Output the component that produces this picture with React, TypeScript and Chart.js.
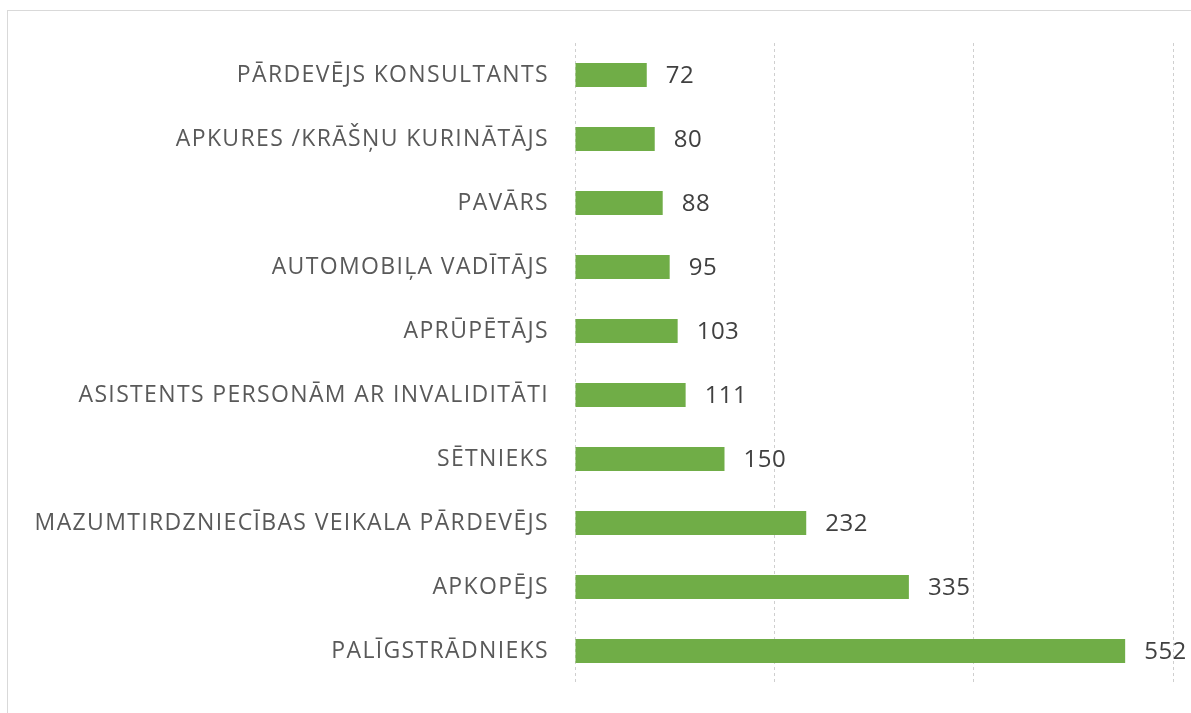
import React, { useEffect, useRef } from "react";
import { Chart, registerables } from "chart.js";

Chart.register(...registerables);

const categories = [
  "PĀRDEVĒJS KONSULTANTS",
  "APKURES /KRĀŠŅU KURINĀTĀJS",
  "PAVĀRS",
  "AUTOMOBIĻA VADĪTĀJS",
  "APRŪPĒTĀJS",
  "ASISTENTS PERSONĀM AR INVALIDITĀTI",
  "SĒTNIEKS",
  "MAZUMTIRDZNIECĪBAS VEIKALA PĀRDEVĒJS",
  "APKOPĒJS",
  "PALĪGSTRĀDNIEKS",
];
const values = [72, 80, 88, 95, 103, 111, 150, 232, 335, 552];
const axisMax = 600;
const axisStep = 200;

const FONT = "'Open Sans', 'Noto Sans', sans-serif";

const spacingPlugin = {
  id: "spacing",
  beforeDraw(chart: any) {
    chart.ctx.letterSpacing = "1.35px";
  },
  beforeDatasetsDraw(chart: any) {
    chart.ctx.letterSpacing = "0px";
  },
};

const valueLabels = {
  id: "valueLabels",
  afterDatasetsDraw(chart: any) {
    const ctx = chart.ctx;
    const meta = chart.getDatasetMeta(0);
    ctx.save();
    ctx.letterSpacing = "0.5px";
    ctx.font = `24px ${FONT}`;
    ctx.fillStyle = "#404040";
    ctx.textAlign = "left";
    ctx.textBaseline = "middle";
    meta.data.forEach((bar: any, i: number) => {
      ctx.fillText(String(values[i]), bar.x + 19, bar.y + 1);
    });
    ctx.restore();
  },
};

export default function App() {
  const ref = useRef<HTMLCanvasElement>(null);
  useEffect(() => {
    if (!ref.current) return;
    const chart = new Chart(ref.current, {
      type: "bar",
      data: {
        labels: categories,
        datasets: [
          {
            data: values,
            backgroundColor: "#70AD47",
            borderWidth: 0,
            categoryPercentage: 1,
            barPercentage: 0.375,
          },
        ],
      },
      options: {
        indexAxis: "y",
        animation: false,
        responsive: false,
        maintainAspectRatio: false,
        layout: { padding: { top: 43, bottom: 30, left: 0, right: 18 } },
        plugins: { legend: { display: false }, tooltip: { enabled: false } },
        scales: {
          x: {
            min: 0,
            max: axisMax,
            ticks: { display: false, stepSize: axisStep },
            border: { display: false, dash: [3, 3] },
            grid: { color: "#cfcfcf", drawTicks: false, lineWidth: 1 },
            afterFit(scale: any) {
              scale.height = 0;
              scale.paddingLeft = 0;
              scale.paddingRight = 0;
            },
          },
          y: {
            grid: { display: false, drawTicks: false },
            border: { display: false },
            ticks: {
              color: "#595959",
              padding: 26,
              font: { family: FONT, size: 23 },
            },
            afterFit(scale: any) {
              scale.width = 575;
              scale.paddingTop = 0;
              scale.paddingBottom = 0;
            },
          },
        },
      },
      plugins: [spacingPlugin, valueLabels],
    });
    return () => chart.destroy();
  }, []);

  return (
    <div
      style={{
        position: "fixed",
        left: 0,
        top: 0,
        width: 1191,
        height: 713,
        overflow: "hidden",
        background: "#fff",
      }}
    >
      <div
        style={{
          position: "absolute",
          left: 7,
          top: 10,
          width: 1300,
          height: 800,
          border: "1px solid #d9d9d9",
        }}
      />
      <canvas
        ref={ref}
        width={1191}
        height={713}
        style={{ position: "absolute", left: 0, top: 0 }}
      />
    </div>
  );
}
